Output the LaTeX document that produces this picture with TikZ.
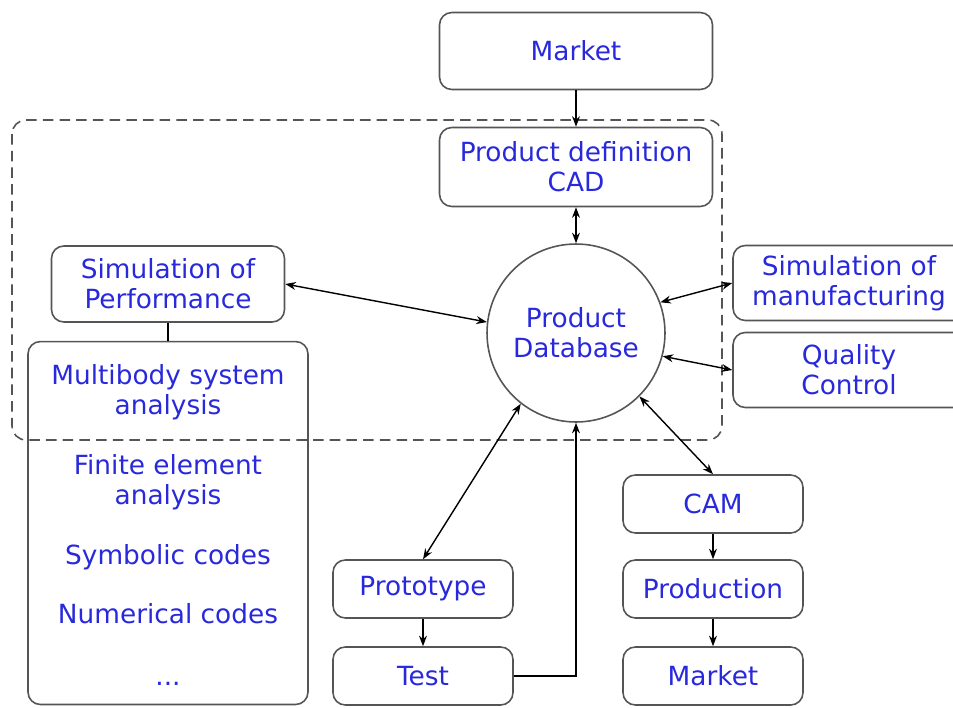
\documentclass[tikz,border=0pt]{standalone}
\usepackage{fontspec}
\setmainfont{DejaVu Sans}
\usepackage{tikz}
\usetikzlibrary{arrows.meta, positioning, calc}
\definecolor{dbblue}{HTML}{2828DC}
\definecolor{dbgray}{HTML}{555555}

\begin{document}
\begin{tikzpicture}[x=0.02cm, y=-0.02cm,
    box/.style={draw=dbgray, line width=0.9pt, rounded corners=7pt, text=dbblue,
        align=center, inner sep=0pt, font=\fontsize{15}{17}\selectfont},
    link/.style={line width=0.8pt, {Stealth[length=6pt,width=4.5pt]}-{Stealth[length=6pt,width=4.5pt]}},
    flow/.style={line width=0.8pt, -{Stealth[length=6pt,width=4.5pt]}},
    zone/.style={draw=dbgray, line width=0.9pt, dash pattern=on 6pt off 3.5pt, rounded corners=8pt}]
    \clip (0,0) rectangle (953,707);

    % Integrated area
    \draw[zone] (12,120) rectangle (722,440);

    % Top part
    \node[box, minimum width=5.46cm, minimum height=1.54cm] (mk) at (576,51) {Market};
    \node[box, minimum width=5.46cm, minimum height=1.58cm] (pd) at (576,167) {Product definition\\CAD};
    \node[circle, draw=dbgray, line width=0.9pt, minimum size=3.56cm, inner sep=0pt,
        text=dbblue, align=center, font=\fontsize{15}{17}\selectfont] (db) at (576,333) {Product\\Database};

    % Left side
    \node[box, minimum width=4.66cm, minimum height=1.52cm] (sp) at (168,284) {Simulation of\\Performance};
    \node[box, minimum width=5.6cm, minimum height=7.26cm] (lst) at (168,523) {};
    \node[text=dbblue, align=center, font=\fontsize{15}{17}\selectfont] (tools) at (168,525)
        {Multibody system\\analysis\\[17pt]Finite element\\analysis\\[17pt]Symbolic codes\\[17pt]Numerical codes\\[18pt]...};

    % Right side
    \node[box, minimum width=4.64cm, minimum height=1.5cm] (sm) at (849,283) {Simulation of\\manufacturing};
    \node[box, minimum width=4.64cm, minimum height=1.5cm] (qc) at (849,370) {Quality\\Control};

    % Bottom
    \node[box, minimum width=3.6cm, minimum height=1.16cm] (pt) at (423,589) {Prototype};
    \node[box, minimum width=3.6cm, minimum height=1.16cm] (ts) at (423,676) {Test};
    \node[box, minimum width=3.6cm, minimum height=1.16cm] (cam) at (713,504) {CAM};
    \node[box, minimum width=3.6cm, minimum height=1.16cm] (pr) at (713,589) {Production};
    \node[box, minimum width=3.6cm, minimum height=1.16cm] (mk2) at (713,676) {Market};

    % Connections
    \draw[flow] (mk) -- (pd);
    \draw[link] (pd) -- (db);
    \draw[link] (sp.east) -- (db.173);
    \draw[line width=0.8pt] (sp) -- (lst);
    \draw[link] (sm.west) -- (db.20);
    \draw[link] (qc.west) -- (db.-15);
    \draw[link] (db.232) -- (pt.north);
    \draw[link] (db.-45) -- (cam.north);
    \draw[flow] (pt) -- (ts);
    \draw[flow] (ts.east) -| (db.south);
    \draw[flow] (cam) -- (pr);
    \draw[flow] (pr) -- (mk2);
\end{tikzpicture}
\end{document}
